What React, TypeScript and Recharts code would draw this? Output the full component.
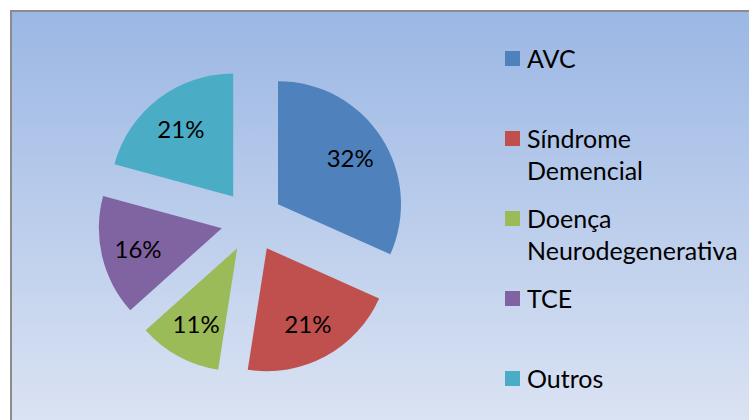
import { Legend, Pie, PieChart, Sector } from 'recharts';

const categories = ['AVC', 'Síndrome Demencial', 'Doença Neurodegenerativa', 'TCE', 'Outros'];
const percents = [32, 21, 11, 16, 21];
const colors = ['#4F81BD', '#C0504D', '#9BBB59', '#8064A2', '#4BACC6'];

const data = categories.map((name, i) => ({ name, value: percents[i], fill: colors[i] }));

const RAD = Math.PI / 180;
const EXPLODE = 31;
const RADIUS = 123;
const FONT = 'Lato, "Open Sans", sans-serif';

function ExplodedSlice(props: any) {
  const { cx, cy, midAngle } = props;
  const dx = Math.cos(midAngle * RAD) * EXPLODE;
  const dy = -Math.sin(midAngle * RAD) * EXPLODE;
  return <Sector {...props} cx={cx + dx} cy={cy + dy} stroke="none" />;
}

function SliceLabel(props: any) {
  const { cx, cy, midAngle, value } = props;
  const dist = EXPLODE + RADIUS * 0.7;
  const x = cx + Math.cos(midAngle * RAD) * dist;
  const y = cy - Math.sin(midAngle * RAD) * dist;
  return (
    <text x={x} y={y} textAnchor="middle" dominantBaseline="central" fill="#000" fontSize={24} fontFamily={FONT}>
      {value}%
    </text>
  );
}

function SideLegend() {
  return (
    <div style={{ fontFamily: FONT, fontSize: 25, color: '#000' }}>
      {data.map((d) => (
        <div key={d.name} style={{ height: 80, display: 'flex', alignItems: 'flex-start' }}>
          <span style={{ width: 15, height: 15, background: d.fill, marginTop: 8.5, marginRight: 7, flexShrink: 0 }} />
          <span style={{ lineHeight: '32px' }}>
            {d.name.split(' ').map((w) => (
              <div key={w}>{w}</div>
            ))}
          </span>
        </div>
      ))}
    </div>
  );
}

export default function App() {
  return (
    <div
      style={{
        position: 'absolute',
        left: 10,
        top: 10,
        width: 740,
        height: 420,
        border: '2px solid #8C8C8C',
        background: 'linear-gradient(to bottom, #9BB7E4 0%, #DCE4F3 100%)',
      }}
    >
      <PieChart width={740} height={420}>
        <Pie
          data={data}
          dataKey="value"
          nameKey="name"
          cx={235}
          cy={204}
          outerRadius={RADIUS}
          startAngle={90}
          endAngle={-270}
          stroke="none"
          shape={ExplodedSlice}
          activeShape={ExplodedSlice}
          inactiveShape={ExplodedSlice}
          label={SliceLabel}
          labelLine={false}
          isAnimationActive={false}
        />
        <Legend
          layout="vertical"
          content={<SideLegend />}
          wrapperStyle={{ position: 'absolute', left: 493, top: 30, width: 240 }}
        />
      </PieChart>
    </div>
  );
}
